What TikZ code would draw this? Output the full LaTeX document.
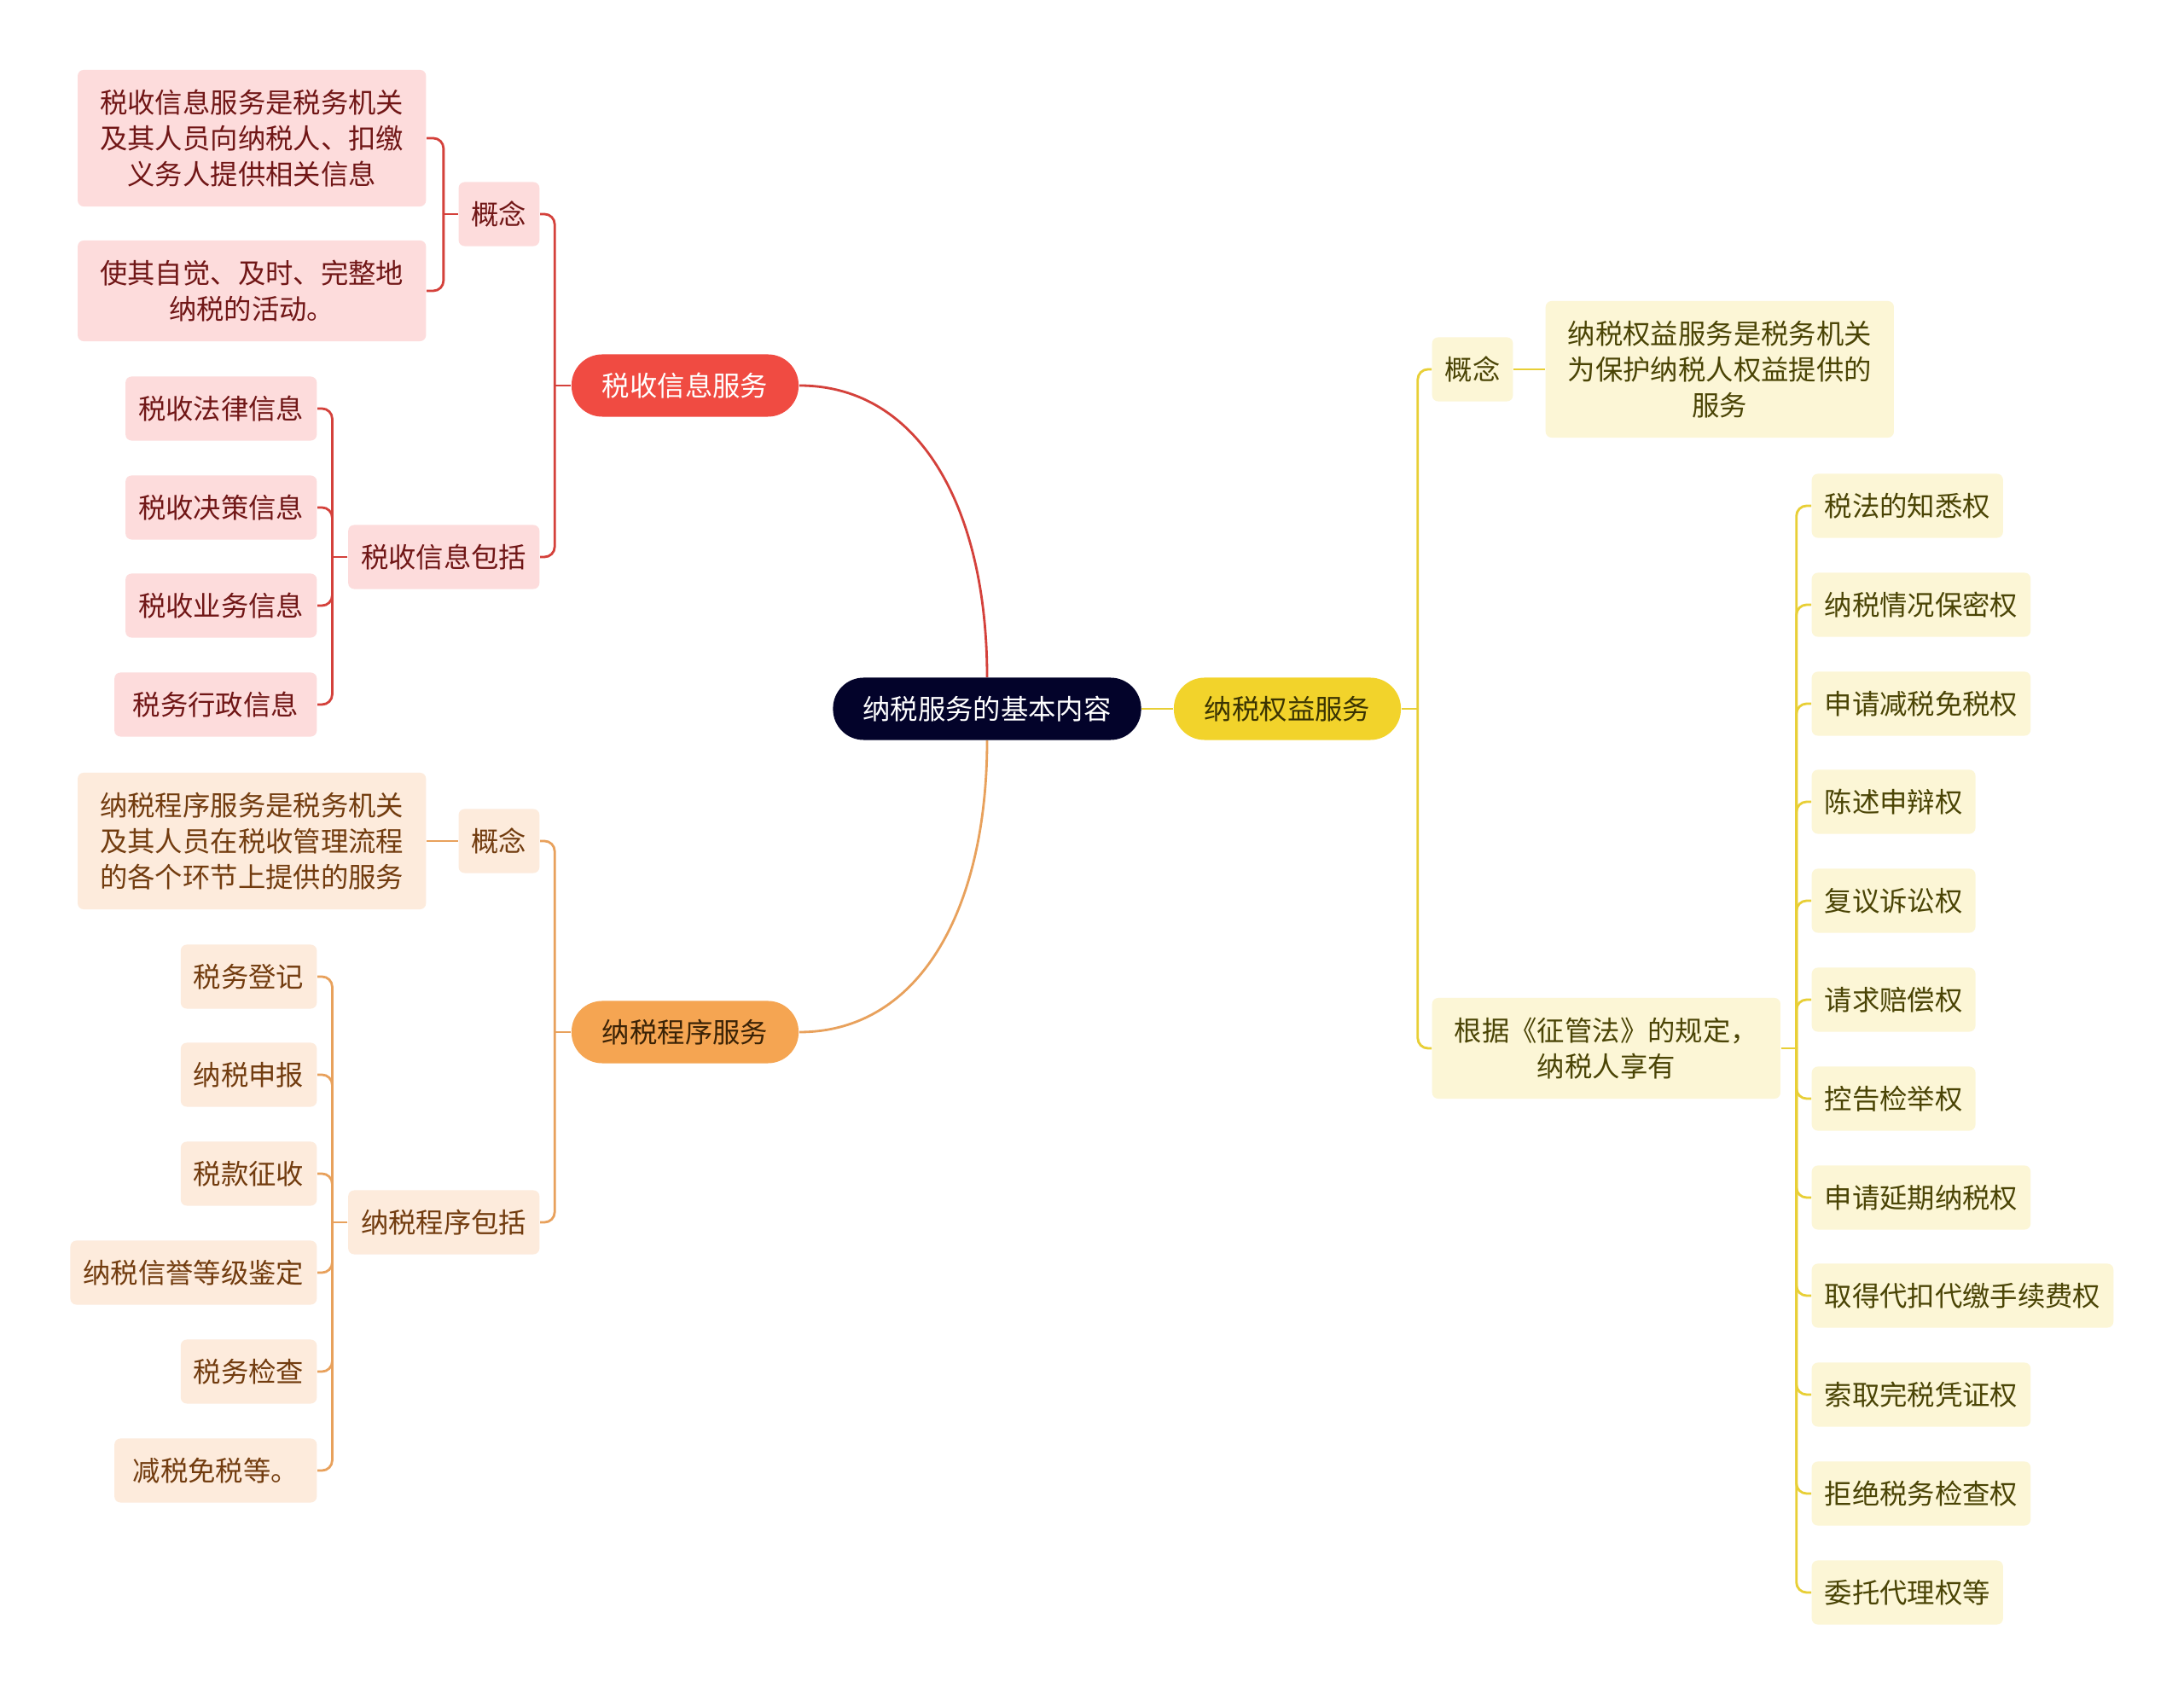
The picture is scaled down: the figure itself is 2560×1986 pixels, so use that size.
\documentclass[tikz,border=0pt]{standalone}
\usepackage{fontspec}
\setmainfont{Noto Sans CJK SC}
\definecolor{rootnavy}{HTML}{03032A}
\definecolor{infored}{HTML}{F04B42}
\definecolor{infosoft}{HTML}{FDDCDC}
\definecolor{infotext}{HTML}{701616}
\definecolor{infoline}{HTML}{D4413B}
\definecolor{procorange}{HTML}{F5A552}
\definecolor{procsoft}{HTML}{FDEBDC}
\definecolor{proctext}{HTML}{723C0F}
\definecolor{procdark}{HTML}{3A2206}
\definecolor{procline}{HTML}{E8A15C}
\definecolor{rightsyellow}{HTML}{F2D32B}
\definecolor{rightssoft}{HTML}{FCF6D6}
\definecolor{rightstext}{HTML}{4A4405}
\definecolor{rightsdark}{HTML}{3A3302}
\definecolor{rightsline}{HTML}{E8CF36}
\tikzset{
  mapfont/.style={font=\fontsize{9.2pt}{12pt}\selectfont},
  rootbox/.style={
    mapfont,
    fill=rootnavy,
    text=white,
    rounded corners=0.36cm,
    minimum height=0.73cm,
    inner xsep=0.35cm,
    inner ysep=0pt
  },
  mainbox/.style={
    mapfont,
    rounded corners=0.36cm,
    minimum height=0.73cm,
    inner xsep=0.36cm,
    inner ysep=0pt
  },
  mainred/.style={mainbox, fill=infored, text=white},
  mainorange/.style={mainbox, fill=procorange, text=procdark},
  mainyellow/.style={mainbox, fill=rightsyellow, text=rightsdark},
  leafbox/.style={
    mapfont,
    rounded corners=0.07cm,
    minimum height=0.75cm,
    inner xsep=0.15cm,
    inner ysep=0pt
  },
  leafred/.style={leafbox, fill=infosoft, text=infotext},
  leaforange/.style={leafbox, fill=procsoft, text=proctext},
  leafyellow/.style={leafbox, fill=rightssoft, text=rightstext},
  notebox/.style={leafbox, align=center, minimum width=4.08cm, minimum height=1.18cm},
  notered/.style={notebox, fill=infosoft, text=infotext},
  noteorange/.style={notebox, fill=procsoft, text=proctext},
  noteyellow/.style={notebox, fill=rightssoft, text=rightstext},
  linkbase/.style={line width=0.8pt, rounded corners=0.12cm},
  redlink/.style={linkbase, draw=infoline},
  orangelink/.style={linkbase, draw=procline},
  yellowlink/.style={linkbase, draw=rightsline}
}
\begin{document}
\begin{tikzpicture}[x=0.01cm, y=-0.01cm]
  \useasboundingbox[fill=white] (0,0) rectangle (2560,1986);
  % root and the three branches
  \node[rootbox] (root) at (1157,831) {纳税服务的基本内容};
  \node[mainred] (info) at (803,452) {税收信息服务};
  \node[mainorange] (proc) at (803,1210) {纳税程序服务};
  \node[mainyellow] (rights) at (1509,831) {纳税权益服务};

  % tax information service
  \node[leafred, anchor=east] (infoidea) at (633,251) {概念};
  \node[notered, anchor=east, minimum height=1.6cm] (infonoteA) at (500,162) {税收信息服务是税务机关\\及其人员向纳税人、扣缴\\义务人提供相关信息};
  \node[notered, anchor=east] (infonoteB) at (500,341) {使其自觉、及时、完整地\\纳税的活动。};
  \node[leafred, anchor=east] (infoscope) at (633,653) {税收信息包括};
  \node[leafred, anchor=east] (infolaw) at (372,479) {税收法律信息};
  \node[leafred, anchor=east] (infopolicy) at (372,595) {税收决策信息};
  \node[leafred, anchor=east] (infobusiness) at (372,710) {税收业务信息};
  \node[leafred, anchor=east, minimum width=2.37cm] (infoadmin) at (372,826) {税务行政信息};

  % tax procedure service
  \node[leaforange, anchor=east] (procidea) at (633,986) {概念};
  \node[noteorange, anchor=east, minimum height=1.6cm] (procnote) at (500,986) {纳税程序服务是税务机关\\及其人员在税收管理流程\\的各个环节上提供的服务};
  \node[leaforange, anchor=east] (procscope) at (633,1433) {纳税程序包括};
  \node[leaforange, anchor=east] (procregister) at (372,1145) {税务登记};
  \node[leaforange, anchor=east] (procdeclare) at (372,1260) {纳税申报};
  \node[leaforange, anchor=east] (proccollect) at (372,1376) {税款征收};
  \node[leaforange, anchor=east] (proccredit) at (372,1492) {纳税信誉等级鉴定};
  \node[leaforange, anchor=east] (procinspect) at (372,1608) {税务检查};
  \node[leaforange, anchor=east, minimum width=2.37cm] (procrelief) at (372,1724) {减税免税等。};

  % taxpayer rights service
  \node[leafyellow, anchor=west] (rightsidea) at (1678,433) {概念};
  \node[noteyellow, anchor=west, minimum height=1.6cm] (rightsnote) at (1811,433) {纳税权益服务是税务机关\\为保护纳税人权益提供的\\服务};
  \node[noteyellow, anchor=west] (rightslaw) at (1678,1229) {根据《征管法》的规定，\\纳税人享有};
  \node[leafyellow, anchor=west] (rknow) at (2123,593) {税法的知悉权};
  \node[leafyellow, anchor=west] (rsecret) at (2123,709) {纳税情况保密权};
  \node[leafyellow, anchor=west] (rrelief) at (2123,825) {申请减税免税权};
  \node[leafyellow, anchor=west] (rdefend) at (2123,940) {陈述申辩权};
  \node[leafyellow, anchor=west] (rreview) at (2123,1056) {复议诉讼权};
  \node[leafyellow, anchor=west] (rcompens) at (2123,1172) {请求赔偿权};
  \node[leafyellow, anchor=west] (raccuse) at (2123,1288) {控告检举权};
  \node[leafyellow, anchor=west] (rdelay) at (2123,1404) {申请延期纳税权};
  \node[leafyellow, anchor=west] (rfee) at (2123,1519) {取得代扣代缴手续费权};
  \node[leafyellow, anchor=west] (rreceipt) at (2123,1635) {索取完税凭证权};
  \node[leafyellow, anchor=west] (rrefuse) at (2123,1751) {拒绝税务检查权};
  \node[leafyellow, anchor=west] (ragent) at (2123,1867) {委托代理权等};

  % bracket points
  \coordinate (infoB) at ([xshift=-0.19cm]info.west);
  \coordinate (infoideaB) at ([xshift=-0.17cm]infoidea.west);
  \coordinate (infoscopeB) at ([xshift=-0.18cm]infoscope.west);
  \coordinate (procB) at ([xshift=-0.19cm]proc.west);
  \coordinate (procscopeB) at ([xshift=-0.18cm]procscope.west);
  \coordinate (rightsB) at ([xshift=0.19cm]rights.east);
  \coordinate (rightslawB) at ([xshift=0.18cm]rightslaw.east);

  % root links
  \draw[redlink] (root.north) .. controls +(0,-195) and +(143,0) .. (info.east);
  \draw[orangelink] (root.south) .. controls +(0,195) and +(143,0) .. (proc.east);
  \draw[yellowlink] (root.east) -- (rights.west);

  % red links
  \draw[redlink] (info.west) -- (infoB);
  \draw[redlink] (infoB) |- (infoidea.east);
  \draw[redlink] (infoB) |- (infoscope.east);
  \draw[redlink] (infoidea.west) -- (infoideaB);
  \draw[redlink] (infoideaB) |- (infonoteA.east);
  \draw[redlink] (infoideaB) |- (infonoteB.east);
  \draw[redlink] (infoscope.west) -- (infoscopeB);
  \draw[redlink] (infoscopeB) |- (infolaw.east);
  \draw[redlink] (infoscopeB) |- (infopolicy.east);
  \draw[redlink] (infoscopeB) |- (infobusiness.east);
  \draw[redlink] (infoscopeB) |- (infoadmin.east);

  % orange links
  \draw[orangelink] (proc.west) -- (procB);
  \draw[orangelink] (procB) |- (procidea.east);
  \draw[orangelink] (procB) |- (procscope.east);
  \draw[orangelink] (procidea.west) -- (procnote.east);
  \draw[orangelink] (procscope.west) -- (procscopeB);
  \draw[orangelink] (procscopeB) |- (procregister.east);
  \draw[orangelink] (procscopeB) |- (procdeclare.east);
  \draw[orangelink] (procscopeB) |- (proccollect.east);
  \draw[orangelink] (procscopeB) |- (proccredit.east);
  \draw[orangelink] (procscopeB) |- (procinspect.east);
  \draw[orangelink] (procscopeB) |- (procrelief.east);

  % yellow links
  \draw[yellowlink] (rights.east) -- (rightsB);
  \draw[yellowlink] (rightsB) |- (rightsidea.west);
  \draw[yellowlink] (rightsB) |- (rightslaw.west);
  \draw[yellowlink] (rightsidea.east) -- (rightsnote.west);
  \draw[yellowlink] (rightslaw.east) -- (rightslawB);
  \draw[yellowlink] (rightslawB) |- (rknow.west);
  \draw[yellowlink] (rightslawB) |- (rsecret.west);
  \draw[yellowlink] (rightslawB) |- (rrelief.west);
  \draw[yellowlink] (rightslawB) |- (rdefend.west);
  \draw[yellowlink] (rightslawB) |- (rreview.west);
  \draw[yellowlink] (rightslawB) |- (rcompens.west);
  \draw[yellowlink] (rightslawB) |- (raccuse.west);
  \draw[yellowlink] (rightslawB) |- (rdelay.west);
  \draw[yellowlink] (rightslawB) |- (rfee.west);
  \draw[yellowlink] (rightslawB) |- (rreceipt.west);
  \draw[yellowlink] (rightslawB) |- (rrefuse.west);
  \draw[yellowlink] (rightslawB) |- (ragent.west);
\end{tikzpicture}
\end{document}
